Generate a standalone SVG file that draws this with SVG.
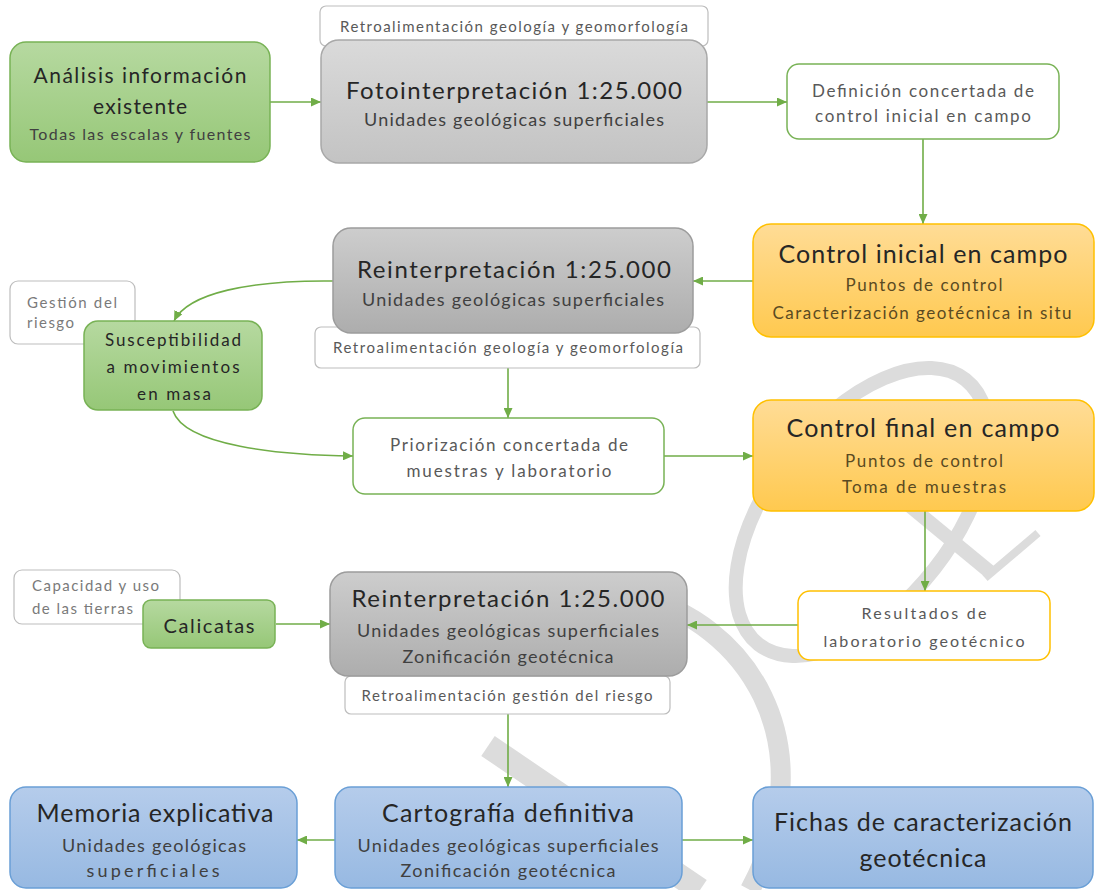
<svg xmlns="http://www.w3.org/2000/svg" width="1096" height="890" viewBox="0 0 1096 890">
<defs>
<linearGradient id="gGreen" x1="0" y1="0" x2="0" y2="1"><stop offset="0" stop-color="#b6d9a0"/><stop offset="1" stop-color="#96c777"/></linearGradient>
<linearGradient id="gGray1" x1="0" y1="0" x2="0" y2="1"><stop offset="0" stop-color="#dadada"/><stop offset="1" stop-color="#c3c3c3"/></linearGradient>
<linearGradient id="gGray2" x1="0" y1="0" x2="0" y2="1"><stop offset="0" stop-color="#cdcdcd"/><stop offset="1" stop-color="#adadad"/></linearGradient>
<linearGradient id="gOrange" x1="0" y1="0" x2="0" y2="1"><stop offset="0" stop-color="#ffdc96"/><stop offset="1" stop-color="#ffc94f"/></linearGradient>
<linearGradient id="gBlue" x1="0" y1="0" x2="0" y2="1"><stop offset="0" stop-color="#b5cceb"/><stop offset="1" stop-color="#97b9e2"/></linearGradient>
<marker id="arr" markerUnits="userSpaceOnUse" markerWidth="10" markerHeight="9" refX="10" refY="4.5" orient="auto"><path d="M0,0 L10,4.5 L0,9 z" fill="#70ad47"/></marker>
<style>
text{font-family:Lato,"Open Sans","Liberation Sans",sans-serif;text-anchor:middle;}
.green{fill:url(#gGreen);stroke:#78b255;stroke-width:1.5;}
.gray1{fill:url(#gGray1);stroke:#a8a8a8;stroke-width:1.5;}
.gray2{fill:url(#gGray2);stroke:#9c9c9c;stroke-width:1.5;}
.orange{fill:url(#gOrange);stroke:#ffc000;stroke-width:1.5;}
.blue{fill:url(#gBlue);stroke:#6a9fd6;stroke-width:1.5;}
.wgreen{fill:#ffffff;stroke:#78b255;stroke-width:1.5;}
.wyellow{fill:#ffffff;stroke:#ffc000;stroke-width:1.5;}
.label{fill:#ffffff;stroke:#bdbdbd;stroke-width:1.2;}
.t{fill:#262626;}
.s{fill:#404040;}
.so{fill:#5a4a22;}
.l{fill:#595959;}
.ll{fill:#7a7a7a;text-anchor:start;}
.conn{fill:none;stroke:#70ad47;stroke-width:1.6;marker-end:url(#arr);}
.wm{fill:none;stroke:#dcdcdc;}
</style>
</defs>
<rect width="1096" height="890" fill="#ffffff"/>
<g id="watermark">
<ellipse class="wm" cx="862" cy="512" rx="168" ry="92" transform="rotate(-52 862 512)" stroke-width="14"/>
<path class="wm" d="M893,492 L990,572" stroke-width="14"/>
<path class="wm" d="M985,578 L1038,533" stroke-width="8"/>
<path class="wm" d="M640,598 C740,620 830,740 750,890" stroke-width="20"/>
<path class="wm" d="M488,746 L700,890" stroke-width="24"/>
</g>
<g id="connectors">
<path class="conn" d="M270,102 H321"/>
<path class="conn" d="M707,102 H787"/>
<path class="conn" d="M923,139 V224"/>
<path class="conn" d="M753,281 H693"/>
<path class="conn" d="M333,281 C250,280 188,293 174,321"/>
<path class="conn" d="M508,368 V418"/>
<path class="conn" d="M173,411 C185,446 280,455 353,456"/>
<path class="conn" d="M664,456 H753"/>
<path class="conn" d="M925,511 V591"/>
<path class="conn" d="M798,625 H687"/>
<path class="conn" d="M276,624 H330"/>
<path class="conn" d="M508,714 V787"/>
<path class="conn" d="M335,840 H297"/>
<path class="conn" d="M682,840 H753"/>
</g>
<g id="analisis">
<rect class="green" x="10" y="42" width="260" height="120" rx="16"/>
<text class="t" x="140" y="83" font-size="21" textLength="213">Análisis información</text>
<text class="t" x="140" y="114" font-size="21" textLength="94">existente</text>
<text class="s" x="140" y="140" font-size="16" textLength="221">Todas las escalas y fuentes</text>
</g>
<g id="retro1">
<rect class="label" x="320" y="6" width="388" height="40" rx="6"/>
<text class="l" x="514" y="32" font-size="15" textLength="348">Retroalimentación geología y geomorfología</text>
</g>
<g id="foto">
<rect class="gray1" x="321" y="40" width="386" height="123" rx="18"/>
<text class="t" x="514" y="99" font-size="24" textLength="336">Fotointerpretación 1:25.000</text>
<text class="s" x="514" y="126" font-size="18" textLength="300">Unidades geológicas superficiales</text>
</g>
<g id="definicion">
<rect class="wgreen" x="787" y="64" width="272" height="75" rx="12"/>
<text class="l" x="923" y="97" font-size="17" textLength="222">Definición concertada de</text>
<text class="l" x="923" y="122" font-size="17" textLength="216">control inicial en campo</text>
</g>
<g id="control-inicial">
<rect class="orange" x="753" y="224" width="341" height="113" rx="18"/>
<text class="t" x="923" y="263" font-size="25" textLength="289">Control inicial en campo</text>
<text class="so" x="924" y="291" font-size="17" textLength="157">Puntos de control</text>
<text class="so" x="922" y="319" font-size="17" textLength="299">Caracterización geotécnica in situ</text>
</g>
<g id="retro2">
<rect class="label" x="315" y="327" width="385" height="41" rx="6"/>
<text class="l" x="508" y="353" font-size="15" textLength="350">Retroalimentación geología y geomorfología</text>
</g>
<g id="reinterp1">
<rect class="gray2" x="333" y="228" width="360" height="105" rx="18"/>
<text class="t" x="514" y="278" font-size="24" textLength="314">Reinterpretación 1:25.000</text>
<text class="s" x="513" y="306" font-size="18" textLength="302">Unidades geológicas superficiales</text>
</g>
<g id="gestion">
<rect class="label" x="10" y="281" width="125" height="63" rx="8"/>
<text class="ll" x="27" y="308" font-size="15" textLength="90">Gestión del</text>
<text class="ll" x="27" y="328" font-size="15" textLength="47">riesgo</text>
</g>
<g id="susceptibilidad">
<rect class="green" x="84" y="321" width="178" height="89" rx="14"/>
<text class="t" x="173" y="346" font-size="17" textLength="136">Susceptibilidad</text>
<text class="t" x="173" y="373" font-size="17" textLength="133">a movimientos</text>
<text class="t" x="174" y="400" font-size="17" textLength="74">en masa</text>
</g>
<g id="priorizacion">
<rect class="wgreen" x="353" y="418" width="311" height="76" rx="12"/>
<text class="l" x="509" y="451" font-size="17" textLength="238">Priorización concertada de</text>
<text class="l" x="509" y="477" font-size="17" textLength="205">muestras y laboratorio</text>
</g>
<g id="control-final">
<rect class="orange" x="753" y="400" width="341" height="111" rx="18"/>
<text class="t" x="923" y="437" font-size="25" textLength="273">Control final en campo</text>
<text class="so" x="924" y="467" font-size="17" textLength="158">Puntos de control</text>
<text class="so" x="924" y="493" font-size="17" textLength="164">Toma de muestras</text>
</g>
<g id="resultados">
<rect class="wyellow" x="798" y="591" width="252" height="69" rx="12"/>
<text class="l" x="924" y="619" font-size="16" textLength="125">Resultados de</text>
<text class="l" x="924" y="647" font-size="16" textLength="201">laboratorio geotécnico</text>
</g>
<g id="capacidad">
<rect class="label" x="14" y="570" width="166" height="54" rx="8"/>
<text class="ll" x="32" y="591" font-size="15" textLength="127">Capacidad y uso</text>
<text class="ll" x="32" y="614" font-size="15" textLength="101">de las tierras</text>
</g>
<g id="calicatas">
<rect class="green" x="143" y="600" width="132" height="48" rx="8"/>
<text class="t" x="209" y="633" font-size="20" textLength="91">Calicatas</text>
</g>
<g id="retro3">
<rect class="label" x="345" y="676" width="325" height="38" rx="6"/>
<text class="l" x="507" y="701" font-size="15" textLength="291">Retroalimentación gestión del riesgo</text>
</g>
<g id="reinterp2">
<rect class="gray2" x="330" y="572" width="357" height="104" rx="18"/>
<text class="t" x="508" y="607" font-size="24" textLength="313">Reinterpretación 1:25.000</text>
<text class="s" x="508" y="637" font-size="18" textLength="302">Unidades geológicas superficiales</text>
<text class="s" x="508" y="663" font-size="18" textLength="211">Zonificación geotécnica</text>
</g>
<g id="memoria">
<rect class="blue" x="10" y="787" width="287" height="101" rx="16"/>
<text class="t" x="155" y="822" font-size="25" textLength="237">Memoria explicativa</text>
<text class="s" x="154" y="852" font-size="18" textLength="184">Unidades geológicas</text>
<text class="s" x="153" y="877" font-size="18" textLength="133">superficiales</text>
</g>
<g id="cartografia">
<rect class="blue" x="335" y="787" width="347" height="101" rx="16"/>
<text class="t" x="508" y="822" font-size="25" textLength="252">Cartografía definitiva</text>
<text class="s" x="508" y="852" font-size="18" textLength="301">Unidades geológicas superficiales</text>
<text class="s" x="508" y="877" font-size="18" textLength="215">Zonificación geotécnica</text>
</g>
<g id="fichas">
<rect class="blue" x="753" y="787" width="340" height="101" rx="16"/>
<text class="t" x="923" y="831" font-size="25" textLength="298">Fichas de caracterización</text>
<text class="t" x="923" y="867" font-size="25" textLength="127">geotécnica</text>
</g>
</svg>
